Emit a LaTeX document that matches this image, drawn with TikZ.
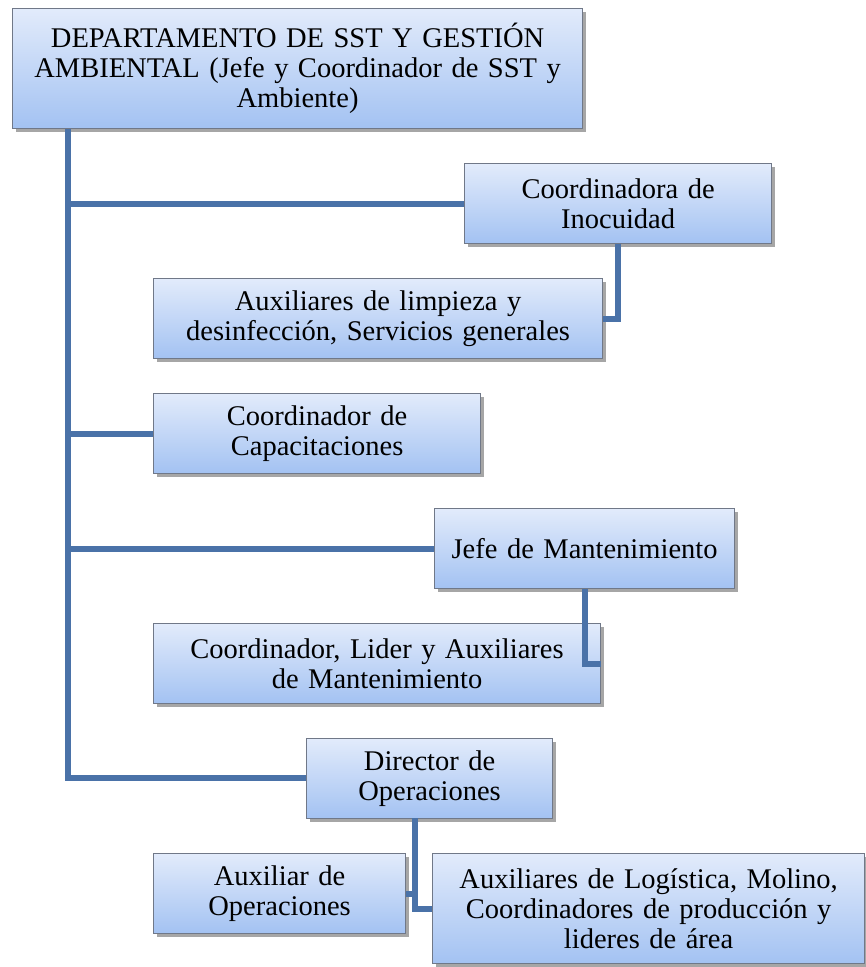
\documentclass[tikz,border=0pt]{standalone}
\usepackage{fontspec}
\setmainfont{Liberation Serif}
\usetikzlibrary{shadows,calc}
\definecolor{lineblue}{RGB}{74,114,168}
\definecolor{boxtop}{RGB}{226,235,251}
\definecolor{boxbot}{RGB}{163,194,242}
\definecolor{boxedge}{RGB}{112,120,136}
\tikzset{
  orgbox/.style={draw=boxedge, line width=1.2pt, top color=boxtop, bottom color=boxbot,
    anchor=north west, inner sep=0pt, align=center,
    font=\fontsize{28.5}{30}\selectfont,
    drop shadow={shadow xshift=3pt, shadow yshift=-3pt, fill=black, opacity=0.35}},
  conn/.style={draw=lineblue, line width=6pt, line join=miter}
}
\begin{document}
\begin{tikzpicture}[x=1pt,y=-1pt]
\useasboundingbox (0,0) rectangle (866,967);
\node[orgbox, minimum width=570pt, minimum height=120pt, text width=566pt] (b1) at (12,8)
  {DEPARTAMENTO DE SST Y GESTIÓN\\AMBIENTAL (Jefe y Coordinador de SST y\\Ambiente)};
\node[orgbox, minimum width=307pt, minimum height=80pt, text width=303pt] (b2) at (464,163)
  {Coordinadora de\\Inocuidad};
\node[orgbox, minimum width=449pt, minimum height=80pt, text width=445pt] (b3) at (153,278)
  {Auxiliares de limpieza y\\desinfección, Servicios generales};
\node[orgbox, minimum width=327pt, minimum height=80pt, text width=323pt] (b4) at (153,393)
  {Coordinador de\\Capacitaciones};
\node[orgbox, minimum width=300pt, minimum height=80pt, text width=296pt] (b5) at (434,508)
  {Jefe de Mantenimiento};
\node[orgbox, minimum width=447pt, minimum height=80pt, text width=443pt] (b6) at (153,623)
  {Coordinador, Lider y Auxiliares\\de Mantenimiento};
\node[orgbox, minimum width=246pt, minimum height=80pt, text width=242pt] (b7) at (306,738)
  {Director de\\Operaciones};
\node[orgbox, minimum width=252pt, minimum height=80pt, text width=248pt] (b8) at (153,853)
  {Auxiliar de\\Operaciones};
\node[orgbox, minimum width=432pt, minimum height=110pt, text width=428pt] (b9) at (432,853)
  {Auxiliares de Logística, Molino,\\Coordinadores de producción y\\lideres de área};
\coordinate (trunk) at (68,778);
\coordinate (opsv) at (415,818);
\draw[conn] (b1.south -| trunk) -- (trunk) -- (trunk -| b7.west);
\draw[conn] (b2.west -| trunk) -- (b2.west);
\draw[conn] (b4.west -| trunk) -- (b4.west);
\draw[conn] (b5.west -| trunk) -- (b5.west);
\draw[conn] (b2.south) -- (b2.south |- b3.east) -- (b3.east);
\draw[conn] (b5.south) -- (b5.south |- b6.east) -- (b6.east);
\draw[conn] (opsv) -- (opsv |- b8.east) -- (b8.east);
\draw[conn] (opsv |- b8.east) -- (opsv |- b9.west) -- (b9.west);
\end{tikzpicture}
\end{document}
